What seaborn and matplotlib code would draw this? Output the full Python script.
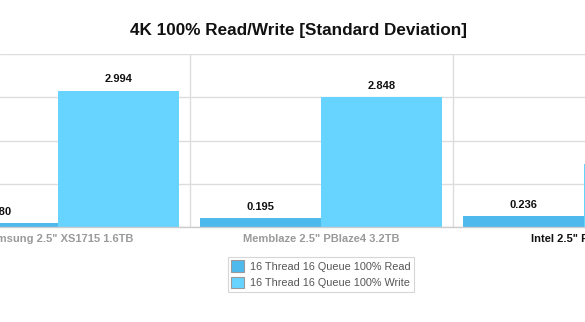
import matplotlib
matplotlib.use("Agg")
import matplotlib.pyplot as plt
import seaborn as sns
import pandas as pd
from matplotlib.patches import Patch

drives = ['Samsung 2.5" XS1715 1.6TB', 'Memblaze 2.5" PBlaze4 3.2TB', 'Intel 2.5" P3700 2TB']
series = ["16 Thread 16 Queue 100% Read", "16 Thread 16 Queue 100% Write"]
read_vals = [0.080, 0.195, 0.236]
write_vals = [2.994, 2.848, 1.380]
colors = ["#4DB9EC", "#66D4FF"]
label_colors = ["#9a9a9a", "#9a9a9a", "#111111"]
y_grid = [0, 0.95, 1.9, 2.85, 3.8]

df = pd.DataFrame({
    "drive": drives * 2,
    "test": [series[0]] * len(drives) + [series[1]] * len(drives),
    "value": read_vals + write_vals,
})

sns.set_theme(style="white")
plt.rcParams["font.family"] = ["Liberation Sans", "DejaVu Sans"]

fig = plt.figure(figsize=(5.85, 3.22), dpi=100)
ax = fig.add_axes([0, 1 - 227 / 322, 1, (227 - 54) / 322])

sns.barplot(data=df, x="drive", y="value", hue="test", palette=colors,
            width=0.92, saturation=1, ax=ax, legend=False, edgecolor="none",
            linewidth=0)

ax.set_yticks(y_grid)
ax.set_yticklabels([])
ax.tick_params(axis="y", length=0)
ax.grid(axis="y", color="#dddddd", linewidth=1)
ax.set_xticks([0.5, 1.5], minor=True)
ax.grid(axis="x", which="minor", color="#dddddd", linewidth=1)
ax.grid(axis="x", which="major", visible=False)
ax.set_axisbelow(True)
for s in ["left", "right", "top"]:
    ax.spines[s].set_visible(False)
ax.spines["bottom"].set_color("#cccccc")
ax.spines["bottom"].set_linewidth(1)

ax.set_xlabel("")
ax.set_ylabel("")
ax.tick_params(axis="x", which="both", length=0, pad=5)
ax.set_xticks(range(len(drives)))
ax.set_xticklabels(drives, fontsize=8, fontweight="bold")
for lbl, c in zip(ax.get_xticklabels(), label_colors):
    lbl.set_color(c)

for cont in ax.containers:
    texts = ax.bar_label(cont, fmt="%.3f", padding=4.5, fontsize=8,
                         fontweight="bold", color="#111111")
    for t in texts:
        t.set_annotation_clip(False)

ax.set_xlim(-58.3 / 263.3, 2.003)
ax.set_ylim(0, 3.8)

fig.text(0.511, 1 - 30 / 322, "4K 100% Read/Write [Standard Deviation]",
         ha="center", va="center", fontsize=12.3, fontweight="bold", color="#111111")

handles = [Patch(facecolor=c, edgecolor="#9a9a9a", linewidth=0.8) for c in colors]
leg = fig.legend(handles, series, loc="upper center",
                 bbox_to_anchor=(321 / 585, 1 - 256.7 / 322),
                 bbox_transform=fig.transFigure, fontsize=7.8, frameon=True,
                 fancybox=False, edgecolor="#cccccc", handlelength=1.2,
                 handleheight=1.2, handletextpad=0.5, labelspacing=0.45,
                 borderpad=0.35, borderaxespad=0)
leg.get_frame().set_linewidth(0.8)
for t in leg.get_texts():
    t.set_color("#555555")

fig.savefig("out.png", dpi=100)
